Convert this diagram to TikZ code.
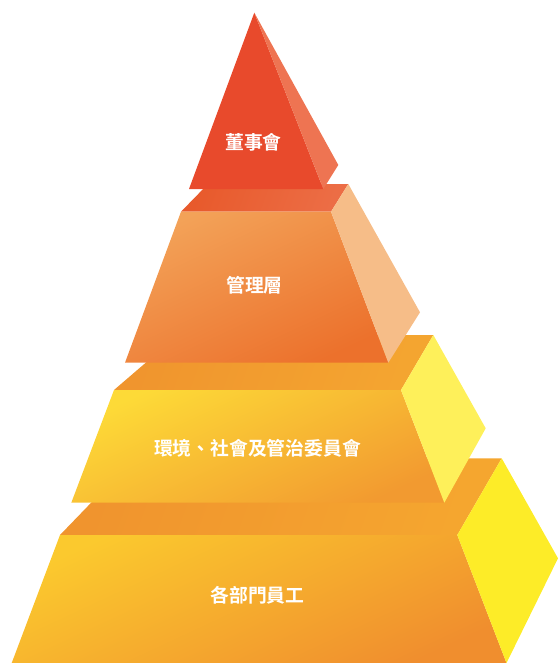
\documentclass[tikz,border=0pt]{standalone}
\usepackage{fontspec}
\newfontfamily\cjk{Noto Sans CJK TC}[BoldFont={* Bold}]
\definecolor{triF}{HTML}{E84A2C}
\definecolor{triR}{HTML}{EE7452}
\definecolor{tTwoTopA}{HTML}{E85A2C}
\definecolor{tTwoTopB}{HTML}{EC6D45}
\definecolor{tTwoFA}{HTML}{F3A258}
\definecolor{tTwoFB}{HTML}{EC712C}
\definecolor{tTwoR}{HTML}{F6BD88}
\definecolor{tThrTopA}{HTML}{F0952E}
\definecolor{tThrTopB}{HTML}{F4A530}
\definecolor{tThrFA}{HTML}{FDDA37}
\definecolor{tThrFB}{HTML}{F29A30}
\definecolor{tThrR}{HTML}{FEF05A}
\definecolor{tFourTopA}{HTML}{F0942E}
\definecolor{tFourTopB}{HTML}{F5A62F}
\definecolor{tFourFA}{HTML}{FBC92E}
\definecolor{tFourFB}{HTML}{F08E2E}
\definecolor{tFourR}{HTML}{FDEC28}
\tikzset{
  face/.style={draw=none},
  lbl/.style={text=white, font=\cjk\bfseries\fontsize{18.8}{21}\selectfont, inner sep=0pt}
}
\begin{document}
\begin{tikzpicture}[x=1pt,y=-1pt]
\useasboundingbox (0,0) rectangle (558,663);
% tier 4 (bottom)
\shade[face, left color=tFourTopA, right color=tFourTopB, shading angle=70]
  (60,535) -- (457.3,535) -- (501.7,458.3) -- (134,458.3) -- cycle;
\shade[face, top color=tFourFA, bottom color=tFourFB, shading angle=25]
  (60,535) -- (457.3,535) -- (506.5,663) -- (11.7,663) -- cycle;
\fill[tFourR] (457.3,535) -- (501.7,458.3) -- (558,558.3) -- (506.5,663) -- cycle;
% tier 3
\shade[face, left color=tThrTopA, right color=tThrTopB, shading angle=70]
  (114,390) -- (401,390) -- (433.3,335) -- (178,335) -- cycle;
\shade[face, top color=tThrFA, bottom color=tThrFB, shading angle=25]
  (114,390) -- (401,390) -- (444.3,502.7) -- (71.3,502.7) -- cycle;
\fill[tThrR] (401,390) -- (433.3,335) -- (485.7,428.3) -- (444.3,502.7) -- cycle;
% tier 2
\shade[face, left color=tTwoTopA, right color=tTwoTopB, shading angle=70]
  (181,211.7) -- (331,211.7) -- (348.3,184) -- (208,184) -- cycle;
\shade[face, top color=tTwoFA, bottom color=tTwoFB, shading angle=25]
  (181,211.7) -- (331,211.7) -- (388.3,362.7) -- (125,362.7) -- cycle;
\fill[tTwoR] (331,211.7) -- (348.3,184) -- (420,312.3) -- (388.3,362.7) -- cycle;
% top triangle
\fill[triF] (254.3,12.7) -- (323.3,189) -- (189,189) -- cycle;
\fill[triR] (254.3,12.7) -- (338.3,165) -- (323.3,189) -- cycle;
% labels
\node[lbl] (board) at (253.5,142) {董事會};
\node[lbl] (mgmt) at (254.5,285) {管理層};
\node[lbl] (esg) at (257.5,448) {環境、社會及管治委員會};
\node[lbl] (staff) at (257.5,595) {各部門員工};
\end{tikzpicture}
\end{document}
